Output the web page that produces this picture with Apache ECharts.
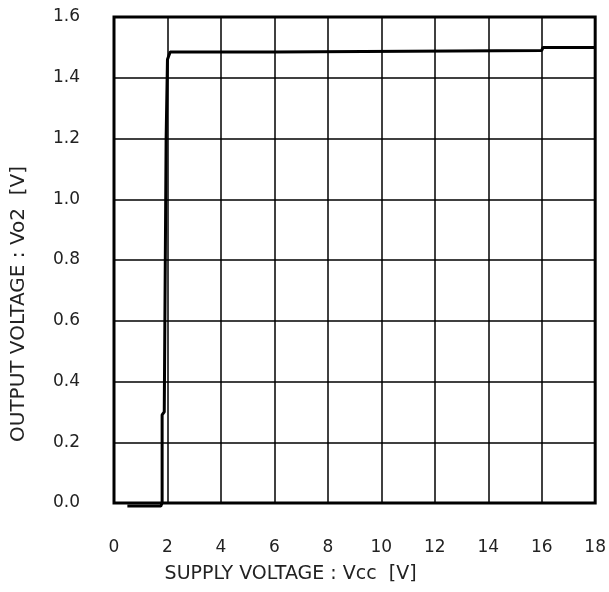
<!DOCTYPE html>
<html>
<head>
<meta charset="utf-8">
<script src="https://cdn.jsdelivr.net/npm/echarts@6/dist/echarts.min.js"></script>
<style>
  html, body { margin: 0; padding: 0; background: #fff; }
  #chart { width: 609px; height: 592px; }
</style>
</head>
<body>
<div id="chart"></div>
<script>
// supply voltage Vcc [V] and output voltage Vo2 [V]
var vcc = [0.5, 1.75, 1.8, 1.8, 1.88, 1.95, 2.0, 2.1, 6.0, 6.05, 16.0, 16.05, 18.0];
var vo2 = [-0.01, -0.01, 0.0, 0.29, 0.30, 1.20, 1.46, 1.485, 1.485, 1.49, 1.49, 1.50, 1.50];

var xTicks = ['0', '2', '4', '6', '8', '10', '12', '14', '16', '18'];
var yTicks = ['0.0', '0.2', '0.4', '0.6', '0.8', '1.0', '1.2', '1.4', '1.6'];

var chartDom = document.getElementById('chart');
var myChart = echarts.init(chartDom, null, { renderer: 'canvas' });

var pts = vcc.map(function (v, i) { return [v, vo2[i]]; });
var font = 'DejaVu Sans';

var option = {
  animation: false,
  grid: {
    left: 114, top: 17, right: 11, bottom: 89,
    show: true, borderColor: '#000', borderWidth: 3, backgroundColor: 'transparent'
  },
  xAxis: {
    type: 'value', min: 0, max: 18, interval: 2,
    name: 'SUPPLY VOLTAGE : Vcc  [V]',
    nameLocation: 'middle', nameGap: 62,
    nameTextStyle: { color: '#222', fontSize: 19, fontFamily: font, padding: [0, 128, 0, 0] },
    axisLine: { show: false },
    axisTick: { show: false },
    axisLabel: {
      margin: 36, color: '#222', fontSize: 17, fontFamily: font,
      formatter: function (v) { return xTicks[Math.round(v / 2)]; }
    },
    splitLine: { show: true, lineStyle: { color: '#000', width: 1.5 } }
  },
  yAxis: {
    type: 'value', min: 0, max: 1.6, interval: 0.2,
    name: 'OUTPUT VOLTAGE : Vo2  [V]',
    nameLocation: 'middle', nameGap: 85,
    nameTextStyle: { color: '#222', fontSize: 20, fontFamily: font, padding: [0, 88, 0, 0] },
    axisLine: { show: false },
    axisTick: { show: false },
    axisLabel: {
      margin: 34, color: '#222', fontSize: 17, fontFamily: font,
      formatter: function (v) { return yTicks[Math.round(v / 0.2)]; }
    },
    splitLine: { show: true, lineStyle: { color: '#000', width: 1.5 } }
  },
  series: [{
    type: 'line',
    data: pts,
    showSymbol: false,
    clip: false,
    lineStyle: { color: '#000', width: 3 }
  }]
};

option && myChart.setOption(option);
</script>
</body>
</html>
